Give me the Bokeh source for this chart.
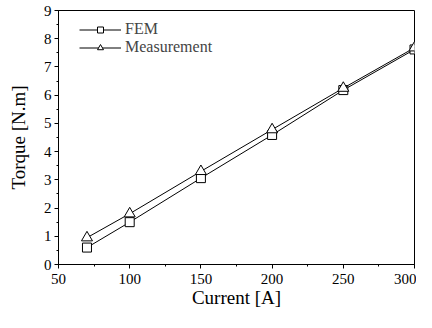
from bokeh.plotting import figure
from bokeh.models import Range1d, SingleIntervalTicker, Legend, LegendItem
from bokeh.embed import file_html
from bokeh.resources import INLINE

current = [70, 100, 150, 200, 250, 300]
fem = [0.6, 1.5, 3.06, 4.59, 6.18, 7.62]
measurement = [0.95, 1.8, 3.3, 4.78, 6.25, 7.68]

FONT = "Liberation Serif"

TOP, BOTTOM, LEFT, RIGHT = 10, 48, 58, 2
W, H = 416, 312
FRAME_H = H - TOP - BOTTOM

p = figure(width=W, height=H, output_backend="svg", toolbar_location=None,
           x_range=Range1d(50, 300), y_range=Range1d(0, 9),
           min_border_left=LEFT, min_border_right=RIGHT, min_border_top=TOP, min_border_bottom=BOTTOM)
p.grid.visible = False
p.outline_line_color = "black"
p.outline_line_width = 1
p.background_fill_color = "white"

p.xaxis.ticker = SingleIntervalTicker(interval=50, num_minor_ticks=2)
p.yaxis.ticker = SingleIntervalTicker(interval=1, num_minor_ticks=2)
for ax in (p.xaxis[0], p.yaxis[0]):
    ax.axis_line_color = "black"
    ax.major_tick_line_color = "black"
    ax.minor_tick_line_color = "black"
    ax.major_tick_in = 0
    ax.major_tick_out = 4
    ax.minor_tick_in = 0
    ax.minor_tick_out = 2
    ax.major_label_text_font = FONT
    ax.major_label_text_font_size = "15px"
    ax.major_label_text_color = "black"
    ax.axis_label_text_font = FONT
    ax.axis_label_text_font_size = "19px"
    ax.axis_label_text_font_style = "normal"
    ax.axis_label_text_color = "black"
p.xaxis.axis_label = "Current [A]"
p.yaxis.axis_label = "Torque [N.m]"
p.xaxis.major_label_standoff = 5
p.yaxis.major_label_standoff = 3
p.xaxis.axis_label_standoff = 0
p.yaxis.axis_label_standoff = 12

l1 = p.line(current, fem, line_color="black", line_width=1)
m1 = p.scatter(current, fem, marker="square", size=9, fill_color="white", line_color="black")
l2 = p.line(current, measurement, line_color="black", line_width=1)
m2 = p.scatter(current, measurement, marker="triangle", size=11, fill_color="white", line_color="black")

legend = Legend(items=[LegendItem(label="FEM", renderers=[l1, m1]),
                       LegendItem(label="Measurement", renderers=[l2, m2])],
                location=(21, FRAME_H - 46), glyph_width=42, glyph_height=15, label_height=15,
                label_text_font=FONT, label_text_font_size="16px",
                border_line_color=None, background_fill_alpha=0,
                spacing=-3, padding=0, margin=0, label_standoff=4)
p.add_layout(legend)

open("out.html", "w").write(file_html(p, INLINE))
